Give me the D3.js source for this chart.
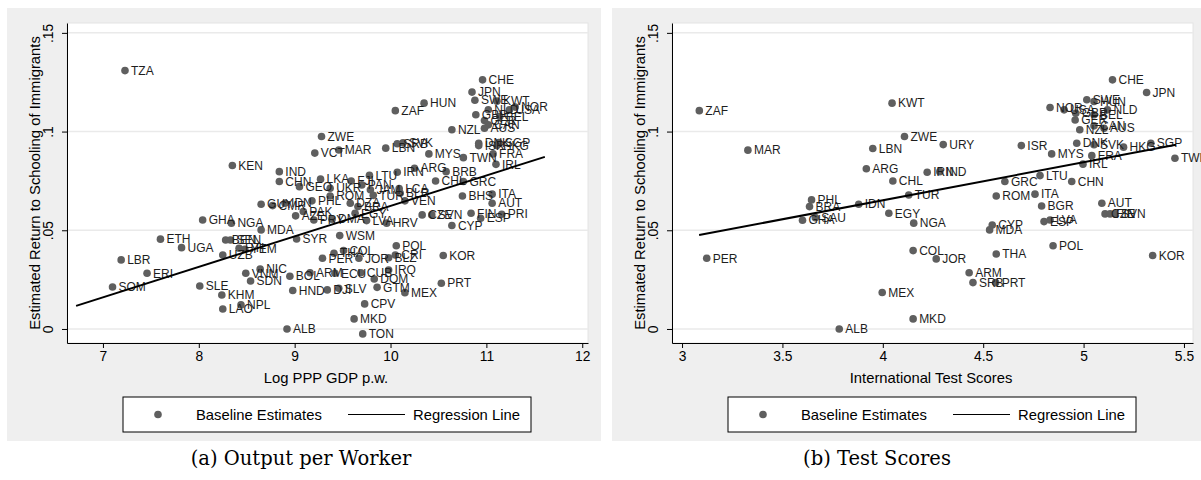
<!DOCTYPE html>
<html>
<head>
<meta charset="utf-8">
<script src="https://cdn.jsdelivr.net/npm/d3@7"></script>
<style>
  body { margin: 0; background: #fff; }
  svg text { font-family: "Liberation Sans", Arial, sans-serif; }
</style>
</head>
<body>
<div id="chart"></div>
<script>
// ---- panel (a): log PPP GDP per worker
const gdpCodes = ["TZA","KEN","IND","CHN","GEO","CHE","JPN","SWE","KWT","NOR","NLD","USA","GBR","BEL","GER","CAN","AUS","NZL",
  "ZAF","HUN","ZWE","VCT","MAR","LBN","SRB","SVK","MYS","TWN","DNK","SGP","ISR","HKG","FRA","IRL","ARG","BRB","IRN","LTU",
  "CHL","GRC","LKA","FJI","PAN","UKR","JAM","LCA","BLR","ROM","PHL","TUR","VEN","IDN","GUY","CMR","DZA","BRA","PAK","AZE",
  "PRY","DMA","EGY","LVA","HRV","NGA","MDA","SYR","WSM","GHA","ETH","UGA","BEN","SEN","HTI","YEM","UZB","LBR","ERI","SOM",
  "SLE","KHM","LAO","NPL","VNM","NIC","SDN","BOL","HND","ALB","ARM","ECU","CUB","IRQ","DOM","DJI","SLV","GTM","MEX","PRT",
  "KOR","POL","PER","THA","COL","JOR","BLZ","CRI","CPV","MKD","TON","BHS","ITA","AUT","FIN","PRI","ESP","CZE","SVN","CYP"];
const gdpX = [7.23,8.35,8.84,8.84,9.05,10.96,10.85,10.88,11.11,11.30,11.02,11.24,10.89,11.14,10.98,11.02,10.98,10.64,
  10.05,10.35,9.28,9.21,9.46,9.95,10.07,10.13,10.40,10.76,10.92,11.13,10.92,11.11,11.07,11.10,10.25,10.58,10.07,9.78,
  10.47,10.76,9.27,9.59,9.70,9.37,9.79,10.09,10.10,9.37,9.18,9.82,10.15,8.90,8.65,8.77,9.58,9.66,9.09,9.01,
  9.20,9.39,9.63,9.75,9.96,8.34,8.65,9.02,9.47,8.04,7.60,7.82,8.28,8.33,8.42,8.48,8.25,7.19,7.46,7.10,
  8.01,8.24,8.25,8.44,8.49,8.64,8.54,8.95,8.98,8.92,9.16,9.42,9.69,9.98,9.83,9.34,9.46,9.86,10.15,10.53,
  10.55,10.06,9.29,9.41,9.51,9.67,9.98,10.05,9.73,9.62,9.71,10.75,11.06,11.06,10.84,11.16,10.94,10.33,10.43,10.64];
const gdpY = [0.1309,0.0828,0.0797,0.0747,0.0721,0.1262,0.1200,0.1159,0.1154,0.1124,0.1110,0.1110,0.1085,0.1076,0.1056,0.1034,0.1017,0.1009,
  0.1106,0.1144,0.0975,0.0891,0.0907,0.0916,0.0938,0.0943,0.0887,0.0868,0.0941,0.0944,0.0929,0.0929,0.0887,0.0834,0.0814,0.0797,0.0794,0.0778,
  0.0750,0.0747,0.0759,0.0750,0.0730,0.0713,0.0705,0.0711,0.0688,0.0674,0.0649,0.0677,0.0649,0.0637,0.0632,0.0625,0.0637,0.0620,0.0595,0.0573,
  0.0552,0.0556,0.0586,0.0549,0.0536,0.0536,0.0502,0.0456,0.0473,0.0552,0.0455,0.0412,0.0451,0.0451,0.0409,0.0404,0.0375,0.0350,0.0282,0.0213,
  0.0218,0.0172,0.0101,0.0122,0.0282,0.0303,0.0243,0.0267,0.0195,0.0000,0.0285,0.0282,0.0285,0.0299,0.0253,0.0198,0.0206,0.0211,0.0184,0.0232,
  0.0372,0.0422,0.0358,0.0384,0.0397,0.0358,0.0361,0.0375,0.0127,0.0051,-0.0025,0.0674,0.0683,0.0637,0.0586,0.0581,0.0561,0.0578,0.0578,0.0524];
const gdpFitX = [6.72, 11.61];
const gdpFitY = [0.0117, 0.0872];
const gdpTicks = [7, 8, 9, 10, 11, 12];

// ---- panel (b): international test scores
const testCodes = ["ZAF","MAR","KWT","LBN","ARG","CHL","PHL","BRA","SAU","GHA","IDN","EGY","PER","MEX","ALB","ZWE","URY","IRN",
  "IND","TUR","ISR","MYS","GRC","LTU","CHN","IRL","FRA","DNK","SVK","NOR","CHE","JPN","SWE","HUN","NLD","USA","GBR","BEL",
  "GER","CAN","NZL","AUS","HKG","SGP","TWN","ROM","ITA","BGR","AUT","CZE","FIN","SVN","ESP","LVA","CYP","MDA","NGA","POL",
  "THA","COL","JOR","KOR","ARM","SRB","PRT","MKD"];
const testX = [3.086,3.328,4.046,3.950,3.918,4.050,3.645,3.635,3.664,3.600,3.880,4.030,3.123,3.997,3.783,4.108,4.301,4.221,
  4.284,4.129,4.690,4.841,4.608,4.783,4.941,4.997,5.041,4.966,5.052,4.833,5.144,5.314,5.016,5.052,5.119,4.903,4.961,5.052,
  4.958,5.052,4.981,5.102,5.199,5.335,5.455,4.565,4.758,4.791,5.091,5.107,5.132,5.157,4.803,4.833,4.545,4.532,4.154,4.848,
  4.565,4.151,4.266,5.344,4.430,4.449,4.562,4.151];
const testY = [0.1106,0.0906,0.1144,0.0914,0.0812,0.0750,0.0654,0.0620,0.0564,0.0551,0.0632,0.0586,0.0358,0.0185,0.0000,0.0975,0.0934,0.0794,
  0.0797,0.0679,0.0929,0.0887,0.0747,0.0777,0.0747,0.0835,0.0878,0.0941,0.0933,0.1122,0.1262,0.1198,0.1161,0.1152,0.1110,0.1110,0.1093,0.1085,
  0.1059,0.1029,0.1009,0.1017,0.0921,0.0941,0.0865,0.0674,0.0683,0.0623,0.0637,0.0583,0.0583,0.0583,0.0544,0.0552,0.0527,0.0502,0.0536,0.0422,
  0.0380,0.0397,0.0355,0.0372,0.0285,0.0235,0.0235,0.0051];
const testFitX = [3.085, 5.46];
const testFitY = [0.0476, 0.0933];
const testTicks = [3, 3.5, 4, 4.5, 5, 5.5];

const yTicks = [0, 0.05, 0.1, 0.15];
const yTickLabels = ["0", ".05", ".1", ".15"];

const svg = d3.select("#chart").append("svg").attr("width", 1201).attr("height", 480);

const plotW = 521, plotTop = 23, plotBottom = 343;
const markerColor = "#5f5f5f";

function drawPanel(opt) {
  const g = svg.append("g");
  const L = opt.left;

  // graph region
  g.append("rect").attr("x", opt.bg[0]).attr("y", 8)
    .attr("width", opt.bg[1] - opt.bg[0]).attr("height", 433).attr("fill", "#efefef");

  const x = d3.scaleLinear().domain(opt.xDomain).range([L, L + plotW]);
  const y = d3.scaleLinear().domain([-0.0071, 0.155]).range([plotBottom, plotTop]);

  // plot region
  g.append("rect").attr("x", L).attr("y", plotTop).attr("width", plotW).attr("height", plotBottom - plotTop)
    .attr("fill", "#fff").attr("stroke", "#e4e4e4");

  // gridlines
  g.selectAll(".grid").data(yTicks).enter().append("line")
    .attr("x1", L).attr("x2", L + plotW)
    .attr("y1", d => y(d)).attr("y2", d => y(d))
    .attr("stroke", "#eaeaea").attr("stroke-width", 1.5);

  // y axis
  const yAxis = g.append("g").attr("transform", `translate(${L},0)`)
    .call(d3.axisLeft(y).tickValues(yTicks).tickFormat((d, i) => yTickLabels[i]).tickSizeInner(5).tickSizeOuter(0));
  yAxis.selectAll(".tick text")
    .attr("transform", "rotate(-90)").attr("x", 0).attr("y", -14).attr("dy", 0)
    .attr("text-anchor", "middle").style("font-size", "13.8px").attr("fill", "#000");

  // x axis
  const xAxis = g.append("g").attr("transform", `translate(0,${plotBottom})`)
    .call(d3.axisBottom(x).tickValues(opt.ticks).tickFormat(d3.format("~g")).tickSizeInner(5).tickSizeOuter(0));
  xAxis.selectAll(".tick text").style("font-size", "13.8px").attr("fill", "#000");
  g.selectAll(".domain, .tick line").attr("stroke", "#000");

  // axis titles
  g.append("text").attr("x", L + 259).attr("y", 383).attr("text-anchor", "middle")
    .style("font-size", "14.8px").text(opt.xTitle);
  g.append("text").attr("transform", `translate(${L - 27.5},183) rotate(-90)`).attr("text-anchor", "middle")
    .style("font-size", "14.8px").text("Estimated Return to Schooling of Immigrants");

  // points
  g.selectAll(".pt").data(opt.codes).enter().append("circle")
    .attr("cx", (d, i) => x(opt.xs[i])).attr("cy", (d, i) => y(opt.ys[i]))
    .attr("r", 3.8).attr("fill", markerColor);
  g.selectAll(".lab").data(opt.codes).enter().append("text")
    .attr("x", (d, i) => x(opt.xs[i]) + 6).attr("y", (d, i) => y(opt.ys[i]) + 4.2)
    .style("font-size", "12px").attr("fill", "#1e1e1e").text(d => d);

  // regression line
  g.append("path").datum(opt.fitX.map((v, i) => [v, opt.fitY[i]]))
    .attr("d", d3.line().x(d => x(d[0])).y(d => y(d[1])))
    .attr("stroke", "#000").attr("stroke-width", 2).attr("fill", "none");

  // legend
  const lx = L + 56;
  g.append("rect").attr("x", lx).attr("y", 397).attr("width", 408).attr("height", 35)
    .attr("fill", "#fff").attr("stroke", "#000");
  g.append("circle").attr("cx", lx + 35).attr("cy", 414.5).attr("r", 3.8).attr("fill", markerColor);
  g.append("text").attr("x", lx + 73).attr("y", 419.8).style("font-size", "14.8px").text("Baseline Estimates");
  g.append("line").attr("x1", lx + 225).attr("x2", lx + 282).attr("y1", 414.5).attr("y2", 414.5)
    .attr("stroke", "#000").attr("stroke-width", 1.2);
  g.append("text").attr("x", lx + 290).attr("y", 419.8).style("font-size", "14.8px").text("Regression Line");

  // caption
  g.append("text").attr("x", opt.capX).attr("y", 465).attr("text-anchor", "middle")
    .style("font-family", "'DejaVu Serif', serif").style("font-size", "19.5px").text(opt.caption);
}

drawPanel({ left: 67, bg: [7, 601], xDomain: [6.625, 12.06], ticks: gdpTicks,
  codes: gdpCodes, xs: gdpX, ys: gdpY, fitX: gdpFitX, fitY: gdpFitY,
  xTitle: "Log PPP GDP p.w.", caption: "(a) Output per Worker", capX: 301 });
drawPanel({ left: 672, bg: [612, 1201], xDomain: [2.95, 5.545], ticks: testTicks,
  codes: testCodes, xs: testX, ys: testY, fitX: testFitX, fitY: testFitY,
  xTitle: "International Test Scores", caption: "(b) Test Scores", capX: 877 });
</script>
</body>
</html>
